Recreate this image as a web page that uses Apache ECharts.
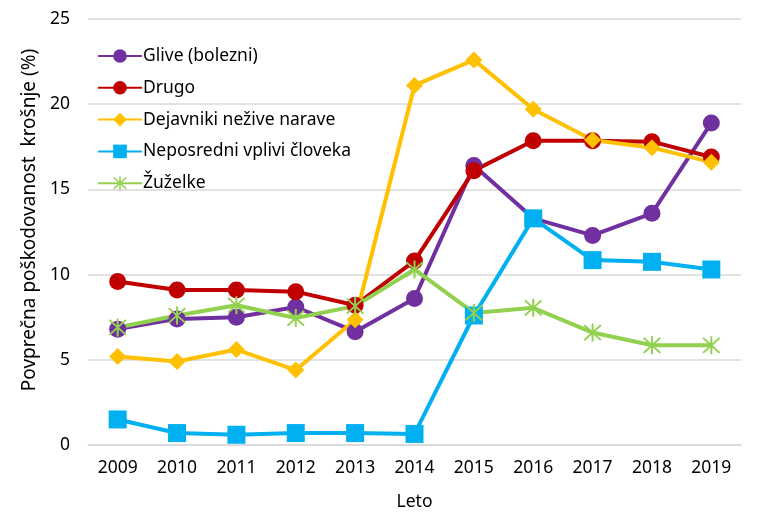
<html style="height: 100%">
<head>
<meta charset="utf-8">
</head>
<body style="height: 100%; width: 100%; margin: 0; background: #fff">
<div id="container" style="height: 100%; width: 100%;"></div>
<script src="https://cdn.jsdelivr.net/npm/echarts@6/dist/echarts.min.js"></script>
<script type="text/javascript">
var years = ['2009', '2010', '2011', '2012', '2013', '2014', '2015', '2016', '2017', '2018', '2019'];
var seriesNames = ['Glive (bolezni)', 'Drugo', 'Dejavniki nežive narave', 'Neposredni vplivi človeka', 'Žuželke'];
var glive = [6.8, 7.4, 7.5, 8.1, 6.65, 8.6, 16.4, 13.3, 12.3, 13.6, 18.9];
var drugo = [9.6, 9.1, 9.1, 9.0, 8.2, 10.8, 16.1, 17.85, 17.85, 17.8, 16.9];
var dejavniki = [5.2, 4.9, 5.6, 4.4, 7.35, 21.1, 22.6, 19.7, 17.9, 17.45, 16.6];
var neposredni = [1.5, 0.7, 0.6, 0.7, 0.7, 0.65, 7.6, 13.3, 10.85, 10.75, 10.3];
var zuzelke = [6.9, 7.6, 8.2, 7.45, 8.15, 10.3, 7.75, 8.05, 6.6, 5.85, 5.85];

var font = 'Noto Sans';
var starPath = 'path://M9,0 L11,0 L11,20 L9,20 Z M1,2.4 L2.4,1 L19,17.6 L17.6,19 Z M17.6,1 L19,2.4 L2.4,19 L1,17.6 Z';

function mkSeries(name, data, color, symbol, size) {
	return {
		name: name,
		type: 'line',
		data: data,
		symbol: symbol,
		symbolSize: size,
		showAllSymbol: true,
		lineStyle: { color: color, width: 4 },
		itemStyle: { color: color },
		emphasis: { disabled: true },
		animation: false
	};
}

var myChart = echarts.init(document.getElementById('container'));
var option = {
	backgroundColor: '#fff',
	textStyle: { fontFamily: font },
	grid: { left: 88, right: 26, top: 19, bottom: 86 },
	legend: {
		orient: 'vertical',
		left: 92,
		top: 42,
		itemWidth: 44,
		itemHeight: 17,
		itemGap: 13.8,
		data: seriesNames,
		textStyle: { fontFamily: font, fontSize: 17.5, color: '#000', padding: [0, 0, 0, -4] }
	},
	xAxis: {
		type: 'category',
		data: years,
		name: 'Leto',
		nameLocation: 'middle',
		nameGap: 48,
		nameTextStyle: { fontFamily: font, fontSize: 17.5, color: '#000' },
		axisLine: { show: true, lineStyle: { color: '#D9D9D9', width: 1.5 } },
		axisTick: { show: false },
		axisLabel: { fontFamily: font, fontSize: 17.5, color: '#000', margin: 14 }
	},
	yAxis: {
		type: 'value',
		min: 0,
		max: 25,
		interval: 5,
		name: 'Povprečna poškodovanost  krošnje (%)',
		nameLocation: 'middle',
		nameGap: 48,
		nameTextStyle: { fontFamily: font, fontSize: 19, color: '#000', padding: [0, 0, 0, 24] },
		axisLine: { show: false },
		axisTick: { show: false },
		axisLabel: { fontFamily: font, fontSize: 17.5, color: '#000', margin: 18 },
		splitLine: { lineStyle: { color: '#D9D9D9', width: 1.5 } }
	},
	series: [
		mkSeries(seriesNames[0], glive, '#7030A0', 'circle', 17),
		mkSeries(seriesNames[1], drugo, '#C00000', 'circle', 17),
		mkSeries(seriesNames[2], dejavniki, '#FFC000', 'diamond', 17),
		mkSeries(seriesNames[3], neposredni, '#00B0F0', 'rect', 18),
		mkSeries(seriesNames[4], zuzelke, '#92D050', starPath, 18)
	]
};
myChart.setOption(option);
</script>
</body>
</html>
